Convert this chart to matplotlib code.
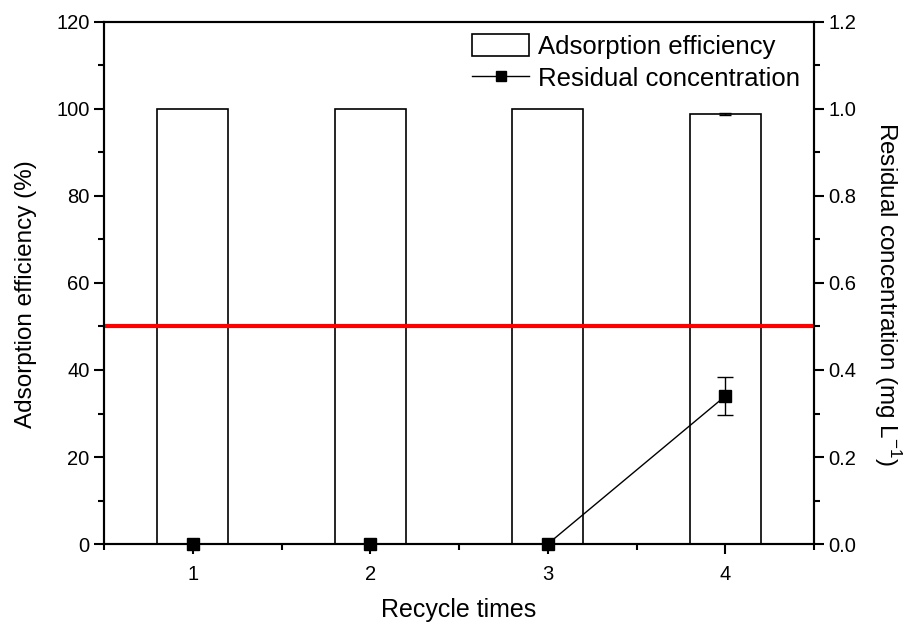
import matplotlib.pyplot as plt
import numpy as np
from matplotlib.ticker import MultipleLocator
from matplotlib.lines import Line2D

plt.rcParams['font.family'] = ['Liberation Sans', 'DejaVu Sans']

# Data
cycles = [1, 2, 3, 4]
efficiency = [100.0, 100.0, 100.0, 98.85]
efficiency_err = [0.0, 0.0, 0.0, 0.15]
residual = [0.0, 0.0, 0.0, 0.34]
residual_err = [0.0, 0.0, 0.0, 0.043]
threshold = 50


def main():
    fig = plt.figure(figsize=(9.06, 6.23), dpi=100)
    ax = fig.add_axes([0.1148, 0.1268, 0.7837, 0.8379])
    ax2 = ax.twinx()

    x = np.array(cycles)
    eff = np.array(efficiency)
    eff_err = np.array(efficiency_err)
    res = np.array(residual)
    res_err = np.array(residual_err)
    has_err = eff_err > 0
    has_rerr = res_err > 0

    bars = ax.bar(x, eff, width=0.4, color='white', edgecolor='black',
                  linewidth=1.2, zorder=2)
    ax.errorbar(x[has_err], eff[has_err], yerr=eff_err[has_err], fmt='none',
                ecolor='black', elinewidth=1, capsize=4, capthick=1, zorder=3)
    ax.axhline(threshold, color='#ff0000', linewidth=3, zorder=3)

    ax2.plot(x, res, color='black', marker='s', markersize=8, linewidth=1,
             clip_on=False, zorder=4)
    ax2.errorbar(x[has_rerr], res[has_rerr], yerr=res_err[has_rerr], fmt='none',
                 ecolor='black', elinewidth=1, capsize=6, capthick=1, zorder=4)

    ax.set_xlim(0.5, 4.5)
    ax.set_ylim(0, 120)
    ax.set_xticks(cycles)
    ax.xaxis.set_minor_locator(MultipleLocator(0.5))
    ax.yaxis.set_major_locator(MultipleLocator(20))
    ax.yaxis.set_minor_locator(MultipleLocator(10))
    rticks = np.arange(0, 1.21, 0.2)
    ax2.set_yticks(rticks)
    ax2.set_yticklabels([f'{v:.1f}' for v in rticks])
    ax2.yaxis.set_minor_locator(MultipleLocator(0.1))
    ax2.set_ylim(0, 1.2)

    for a in (ax, ax2):
        for s in a.spines.values():
            s.set_linewidth(1.5)
        a.tick_params(which='major', direction='out', length=7, width=1.5,
                      labelsize=14.5)
        a.tick_params(which='minor', direction='out', length=4, width=1.5)
    ax.tick_params(axis='x', pad=8)

    ax.set_xlabel('Recycle times', fontsize=18, labelpad=10)
    ax.set_ylabel('Adsorption efficiency (%)', fontsize=17.5, labelpad=14)
    ax2.set_ylabel('Residual concentration (mg L$^{\\mathregular{-1}}$)',
                   fontsize=17.5, rotation=270, labelpad=33)
    ax.yaxis.label.set_y(0.478)
    ax2.yaxis.label.set_y(0.478)

    line_handle = Line2D([], [], color='black', marker='s', markersize=7,
                         linewidth=1)
    ax.legend([bars, line_handle],
              ['Adsorption efficiency', 'Residual concentration'],
              loc='upper right', bbox_to_anchor=(1.0016, 1.006), frameon=False,
              fontsize=18.5, handlelength=2.2, handleheight=0.9,
              handletextpad=0.35, labelspacing=0.28, borderaxespad=0.2)

    fig.savefig('out.png', dpi=100)


if __name__ == '__main__':
    main()
